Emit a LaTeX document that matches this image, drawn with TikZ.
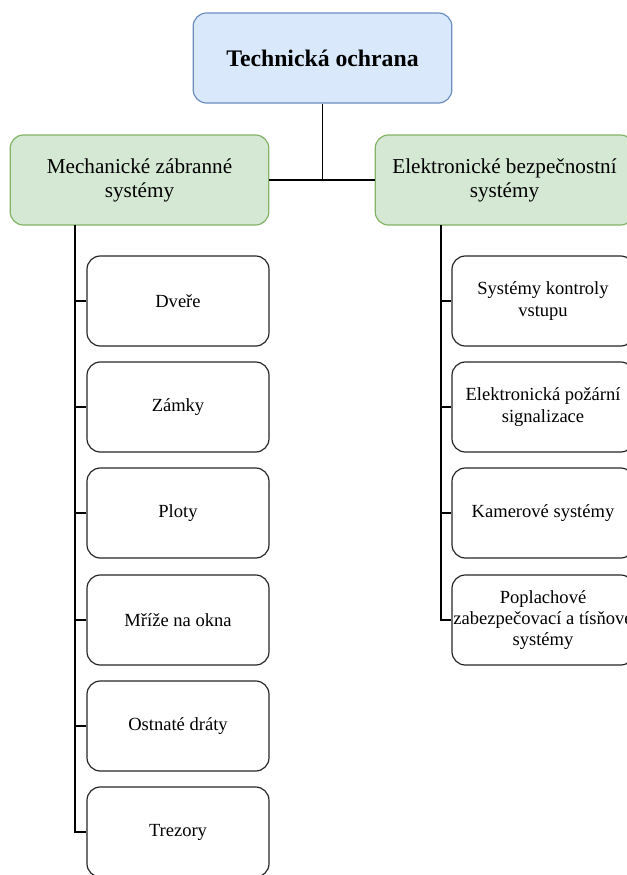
\documentclass[tikz,border=0pt]{standalone}
\usepackage{fontspec}
\setmainfont{Liberation Serif}
\definecolor{topfill}{HTML}{DAE8FC}
\definecolor{topline}{HTML}{6C8EBF}
\definecolor{grpfill}{HTML}{D5E8D4}
\definecolor{grpline}{HTML}{82B366}
\tikzset{
    topbox/.style={rectangle, rounded corners=10pt, draw=topline, fill=topfill, line width=0.9pt,
        minimum width=194pt, minimum height=67.5pt, align=center, font=\fontsize{17.8}{21}\selectfont\bfseries},
    grpbox/.style={rectangle, rounded corners=10pt, draw=grpline, fill=grpfill, line width=0.9pt,
        minimum width=194pt, minimum height=67.5pt, align=center, font=\fontsize{15.9}{18}\selectfont},
    itembox/.style={rectangle, rounded corners=10pt, draw=black!85, fill=white, line width=0.9pt, inner xsep=1pt,
        minimum width=136.5pt, minimum height=67.5pt, align=center, font=\fontsize{13.9}{16}\selectfont},
    link/.style={draw=black, line width=1.2pt}
}

\begin{document}
\begin{tikzpicture}[x=0.75pt, y=-0.75pt]
    \useasboundingbox (0, 0) rectangle (627, 875);
    \clip (0, 0) rectangle (627, 875);

    \node[topbox] (ochrana) at (322.5, 58) {Technická ochrana};
    \node[grpbox] (mech) at (139.5, 180) {Mechanické zábranné\\systémy};
    \node[grpbox] (elek) at (504.5, 180) {Elektronické bezpečnostní\\systémy};

    % mechanicke
    \node[itembox] (dvere) at (178, 301) {Dveře};
    \node[itembox] (zamky) at (178, 407) {Zámky};
    \node[itembox] (ploty) at (178, 513) {Ploty};
    \node[itembox] (mrize) at (178, 620) {Mříže na okna};
    \node[itembox] (draty) at (178, 726) {Ostnaté dráty};
    \node[itembox] (trezory) at (178, 832) {Trezory};

    % elektronicke
    \node[itembox] (vstup) at (543, 301) {Systémy kontroly\\vstupu};
    \node[itembox] (pozar) at (543, 407) {Elektronická požární\\signalizace};
    \node[itembox] (kamery) at (543, 513) {Kamerové systémy};
    \node[itembox] (poplach) at (543, 620) {Poplachové\\zabezpečovací a tísňové\\systémy};

    \coordinate (mkmen) at (75, 225);
    \coordinate (ekmen) at (441, 225);

    \draw[link] (ochrana.south) |- (mech.east);
    \draw[link] (ochrana.south) |- (elek.west);

    \draw[link] (mkmen) |- (dvere.west);
    \draw[link] (mkmen) |- (zamky.west);
    \draw[link] (mkmen) |- (ploty.west);
    \draw[link] (mkmen) |- (mrize.west);
    \draw[link] (mkmen) |- (draty.west);
    \draw[link] (mkmen) |- (trezory.west);

    \draw[link] (ekmen) |- (vstup.west);
    \draw[link] (ekmen) |- (pozar.west);
    \draw[link] (ekmen) |- (kamery.west);
    \draw[link] (ekmen) |- (poplach.west);
\end{tikzpicture}
\end{document}
